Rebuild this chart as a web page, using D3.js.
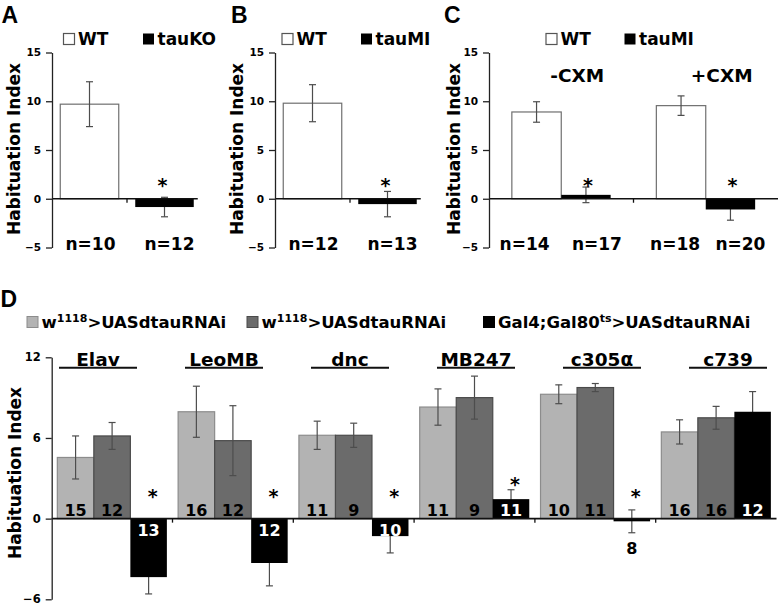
<!DOCTYPE html>
<html><head><meta charset="utf-8">
<script src="https://cdn.jsdelivr.net/npm/d3@7"></script>
<style>
body{margin:0;background:#fff}
text{font-family:"DejaVu Sans",Verdana,sans-serif;font-weight:bold;fill:#000}
</style>
</head><body><svg id="c" width="780" height="608"></svg>
<script>
// ---------------- DATA ----------------
const yTicksABC = [-5, 0, 5, 10, 15];
const aGenotypes = ["WT", "tauKO"];
const aValues = [9.7, -0.85];
const aErrors = [2.3, 1.0];
const aN = ["n=10", "n=12"];

const bGenotypes = ["WT", "tauMI"];
const bValues = [9.8, -0.55];
const bErrors = [1.9, 1.3];
const bN = ["n=12", "n=13"];

const cConditions = ["-CXM", "+CXM"];
const cGenotypes = ["WT", "tauMI"];
const cWT = [8.9, 9.55];
const cWTErr = [1.05, 1.0];
const cTau = [0.4, -1.1];
const cTauErr = [0.8, 1.1];
const cN = [["n=14", "n=17"], ["n=18", "n=20"]];

const yTicksD = [-6, 0, 6, 12];
const dDrivers = ["Elav", "LeoMB", "dnc", "MB247", "c305α", "c739"];
const dSeries = ["ctrl1", "ctrl2", "ko"];
const dLegend = [["w", "1118", ">UASdtauRNAi"], ["w", "1118", ">UASdtauRNAi"], ["Gal4;Gal80", "ts", ">UASdtauRNAi"]];
const dLight = [4.55, 7.95, 6.2, 8.3, 9.25, 6.45];
const dLightErr = [1.6, 1.9, 1.05, 1.35, 0.7, 0.9];
const dDark = [6.15, 5.8, 6.2, 9.0, 9.75, 7.5];
const dDarkErr = [1.0, 2.6, 0.9, 1.6, 0.3, 0.85];
const dBlack = [-4.35, -3.3, -1.3, 1.45, -0.2, 7.95];
const dBlackErr = [1.25, 1.7, 1.25, 0.7, 0.85, 1.5];
const dNLight = [15, 16, 11, 11, 10, 16];
const dNDark = [12, 12, 9, 9, 11, 16];
const dNBlack = [13, 12, 10, 11, 8, 12];
const dSig = [true, true, true, true, true, false];

// ---------------- STYLE ----------------
const FILL = {white: "#fff", ctrl1: "#b3b3b3", ctrl2: "#6b6b6b", ko: "#000"};
const STROKE = {white: "#6f6f6f", ctrl1: "#8c8c8c", ctrl2: "#4a4a4a", ko: "#000"};
const ERR = "#4d4d4d";

const svg = d3.select("#c");

function yAxis(g, y, ticks, x, fs) {
  const ax = g.append("g").attr("transform", `translate(${x},0)`)
    .call(d3.axisLeft(y).tickValues(ticks).tickSize(6).tickSizeOuter(0).tickPadding(5));
  ax.select(".domain").attr("stroke", "#222").attr("stroke-width", 1.3);
  ax.selectAll(".tick line").attr("stroke", "#222").attr("stroke-width", 1.3);
  ax.selectAll(".tick text").style("font-size", fs + "px").style("font-family", "DejaVu Sans").style("font-weight", "bold").attr("fill", "#000");
}
function yLabel(x, yc) {
  svg.append("text").attr("transform", `translate(${x},${yc}) rotate(-90)`)
    .attr("text-anchor", "middle").style("font-size", "17px").text("Habituation Index");
}
function errBar(g, cx, y, v, e) {
  g.append("line").attr("x1", cx).attr("x2", cx).attr("y1", y(v + e)).attr("y2", y(v - e)).attr("stroke", ERR).attr("stroke-width", 1.2);
  [v + e, v - e].forEach(t => g.append("line").attr("x1", cx - 3.5).attr("x2", cx + 3.5).attr("y1", y(t)).attr("y2", y(t)).attr("stroke", ERR).attr("stroke-width", 1.2));
}
function bar(g, x0, w, y, v, key) {
  g.append("rect").attr("x", x0).attr("width", w)
    .attr("y", Math.min(y(v), y(0))).attr("height", Math.abs(y(v) - y(0)))
    .attr("fill", FILL[key]).attr("stroke", STROKE[key]).attr("stroke-width", key === "ko" ? 0 : 1.2);
}
function letter(t, x, y) {
  svg.append("text").attr("x", x).attr("y", y).style("font-family", "Liberation Sans, Arial").style("font-size", "23px").text(t);
}
function legendABC(x1, label1, x2, label2) {
  svg.append("rect").attr("x", x1).attr("y", 33.5).attr("width", 11).attr("height", 11).attr("fill", "#fff").attr("stroke", "#555").attr("stroke-width", 1.2);
  svg.append("text").attr("x", x1 + 14.5).attr("y", 44.5).style("font-size", "17px").text(label1);
  svg.append("rect").attr("x", x2).attr("y", 33.5).attr("width", 11).attr("height", 11).attr("fill", "#000");
  svg.append("text").attr("x", x2 + 14.5).attr("y", 44.5).style("font-size", "17px").text(label2);
}
const yABC = d3.scaleLinear().domain([-5, 15]).range([247.5, 52.5]);

// ---------------- PANELS A & B ----------------
function simplePanel(L, lx, axisX, genos, vals, errs, ns, legX) {
  letter(L, lx, 23);
  legendABC(legX[0], genos[0], legX[1], genos[1]);
  const g = svg.append("g");
  const x = d3.scaleBand().domain(genos).range([axisX, axisX + 150]).paddingInner(0.22).paddingOuter(0.11);
  const keys = ["white", "ko"];
  // white bar then its error, error of ko then ko bar
  bar(g, x(genos[0]), x.bandwidth(), yABC, vals[0], keys[0]);
  errBar(g, x(genos[0]) + x.bandwidth() / 2, yABC, vals[0], errs[0]);
  errBar(g, x(genos[1]) + x.bandwidth() / 2, yABC, vals[1], errs[1]);
  bar(g, x(genos[1]), x.bandwidth(), yABC, vals[1], keys[1]);
  // zero line
  g.append("line").attr("x1", axisX).attr("x2", x(genos[1]) + x.bandwidth() + 4).attr("y1", yABC(0)).attr("y2", yABC(0)).attr("stroke", "#111").attr("stroke-width", 1.5);
  const bx = x(genos[1]) - x.step() * x.paddingInner() / 2;
  g.append("line").attr("x1", bx).attr("x2", bx).attr("y1", yABC(0)).attr("y2", yABC(0) + 4).attr("stroke", "#111").attr("stroke-width", 1.3);
  yAxis(g, yABC, yTicksABC, axisX, 10.5);
  // star
  const sx = x(genos[1]) + x.bandwidth() / 2 - 2;
  g.append("text").attr("x", sx).attr("y", yABC(0) - 17 + 10).attr("text-anchor", "middle").style("font-size", "19px").text("*");
  ns.forEach((n, i) => g.append("text").attr("x", x(genos[i]) + x.bandwidth() / 2 + (i ? 5 : 1)).attr("y", 249.5).attr("text-anchor", "middle").style("font-size", "17px").text(n));
  yLabel(axisX - 32, 149);
}
simplePanel("A", 1.5, 52, aGenotypes, aValues, aErrors, aN, [63.5, 143]);
simplePanel("B", 231, 275, bGenotypes, bValues, bErrors, bN, [282, 361]);

// ---------------- PANEL C ----------------
(function () {
  const axisX = 489;
  letter("C", 444, 23);
  legendABC(546, cGenotypes[0], 624.5, cGenotypes[1]);
  const g = svg.append("g");
  const xo = d3.scaleBand().domain(cConditions).range([axisX, 778]);
  const xi = d3.scaleBand().domain(cGenotypes).range([0, xo.bandwidth()]).paddingOuter(0.4625);
  cConditions.forEach((c, i) => {
    const x0 = xo(c);
    const xw = x0 + xi("WT"), xt = x0 + xi("tauMI"), bw = xi.bandwidth();
    bar(g, xw, bw, yABC, cWT[i], "white");
    errBar(g, xw + bw / 2, yABC, cWT[i], cWTErr[i]);
    errBar(g, xt + bw / 2, yABC, cTau[i], cTauErr[i]);
    bar(g, xt, bw, yABC, cTau[i], "ko");
    g.append("text").attr("x", xt + bw / 2 + 2).attr("y", yABC(0) - 17 + 10).attr("text-anchor", "middle").style("font-size", "19px").text("*");
    g.append("text").attr("x", x0 + xo.bandwidth() / 2 + 16).attr("y", 81.5).attr("text-anchor", "middle").style("font-size", "18.5px").text(c);
    g.append("text").attr("x", xw + bw / 2 - (i ? 6 : 12)).attr("y", 249.5).attr("text-anchor", "middle").style("font-size", "17px").text(cN[i][0]);
    g.append("text").attr("x", xt + bw / 2 + (i ? 10 : 11)).attr("y", 249.5).attr("text-anchor", "middle").style("font-size", "17px").text(cN[i][1]);
  });
  g.append("line").attr("x1", axisX).attr("x2", 778).attr("y1", yABC(0)).attr("y2", yABC(0)).attr("stroke", "#111").attr("stroke-width", 1.5);
  const bx = xo(cConditions[1]);
  g.append("line").attr("x1", bx).attr("x2", bx).attr("y1", yABC(0)).attr("y2", yABC(0) + 4).attr("stroke", "#111").attr("stroke-width", 1.3);
  yAxis(g, yABC, yTicksABC, axisX, 10.5);
  yLabel(axisX - 29, 149);
})();

// ---------------- PANEL D ----------------
(function () {
  letter("D", 0.5, 307);
  const axisX = 51.7;
  const y = d3.scaleLinear().domain([-6, 12]).range([599.3, 357.3]);
  const y0 = y(0);
  const xo = d3.scaleBand().domain(dDrivers).range([axisX, 776.5]);
  const xi = d3.scaleBand().domain(dSeries).range([0, xo.bandwidth()]).paddingOuter(0.154);
  const bw = xi.bandwidth();
  // legend
  const legX = [27, 247, 483.5];
  dLegend.forEach((parts, i) => {
    svg.append("rect").attr("x", legX[i]).attr("y", 316.5).attr("width", 11).attr("height", 11)
      .attr("fill", FILL[dSeries[i]]).attr("stroke", STROKE[dSeries[i]]).attr("stroke-width", 1);
    const t = svg.append("text").attr("x", legX[i] + 14.5).attr("y", 327.5).style("font-size", "16.5px");
    t.append("tspan").text(parts[0]);
    t.append("tspan").attr("dy", -6).style("font-size", "11px").text(parts[1]);
    t.append("tspan").attr("dy", 6).text(parts[2]);
  });
  const g = svg.append("g");
  const lab = d3.scalePoint().domain(dDrivers).range([98, 728]);
  dDrivers.forEach((d, i) => {
    const x0 = xo(d);
    const vals = [dLight[i], dDark[i], dBlack[i]];
    const errs = [dLightErr[i], dDarkErr[i], dBlackErr[i]];
    const ns = [dNLight[i], dNDark[i], dNBlack[i]];
    dSeries.forEach((s, j) => {
      const bx = x0 + xi(s), cx = bx + bw / 2;
      if (s === "ko") { errBar(g, cx, y, vals[j], errs[j]); bar(g, bx, bw, y, vals[j], s); }
      else { bar(g, bx, bw, y, vals[j], s); errBar(g, cx, y, vals[j], errs[j]); }
    });
    // counts
    dSeries.forEach((s, j) => {
      const cx = x0 + xi(s) + bw / 2, v = vals[j];
      const t = g.append("text").attr("text-anchor", "middle").attr("x", cx).style("font-size", "16px");
      if (v >= 0) t.attr("y", y0 - 2.5).attr("fill", s === "ko" ? "#fff" : "#000").style("fill", s === "ko" ? "#fff" : "#000");
      else if (y(v) - y0 > 12) t.attr("y", y0 + 17).style("fill", "#fff");
      else t.attr("y", y(v - errs[j]) + 21).style("fill", "#000");
      t.text(ns[j]);
    });
    if (dSig[i]) {
      const cx = x0 + xi("ko") + bw / 2 + 4;
      const v = dBlack[i], e = dBlackErr[i];
      const cy = Math.min(y0 - 26, y(Math.max(v, 0) + (v > 0 ? e : 0)) - 9);
      g.append("text").attr("x", cx).attr("y", cy + 10).attr("text-anchor", "middle").style("font-size", "19px").text("*");
    }
    // driver label with underline
    const lx = lab(d);
    g.append("text").attr("x", lx).attr("y", 365.5).attr("text-anchor", "middle").style("font-size", "18.5px").text(d);
    g.append("line").attr("x1", lx - 39).attr("x2", lx + 39).attr("y1", 367.8).attr("y2", 367.8).attr("stroke", "#111").attr("stroke-width", 2);
    if (i > 0) g.append("line").attr("x1", x0).attr("x2", x0).attr("y1", y0).attr("y2", y0 + 4).attr("stroke", "#111").attr("stroke-width", 1.3);
  });
  g.append("line").attr("x1", axisX).attr("x2", 776.5).attr("y1", y0).attr("y2", y0).attr("stroke", "#111").attr("stroke-width", 1.6);
  yAxis(g, y, yTicksD, axisX, 11.5);
  yLabel(20.5, 473);
})();
</script>
</body></html>
